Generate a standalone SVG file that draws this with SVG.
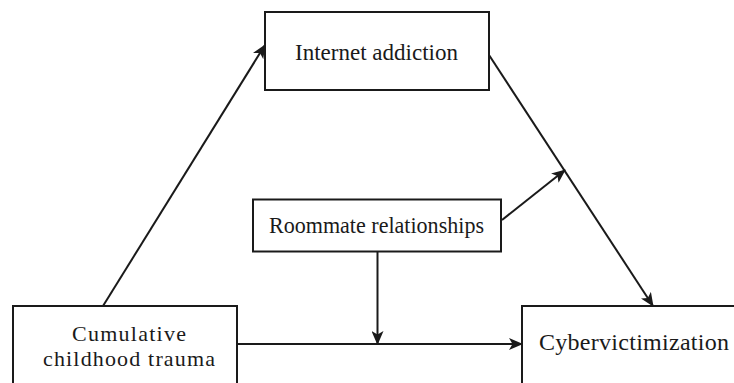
<svg xmlns="http://www.w3.org/2000/svg" width="734" height="383" viewBox="0 0 734 383">
<style>
.box{fill:#fff;stroke:#1a1a1a;stroke-width:2}
.lbl{font-family:"Liberation Serif","Times New Roman",serif;font-size:24px;fill:#1a1a1a}
.sm{font-size:22px}
.edge{fill:none;stroke:#1a1a1a;stroke-width:2}
</style>
<defs>
<marker id="ah" markerUnits="userSpaceOnUse" markerWidth="14" markerHeight="12" refX="13" refY="6" orient="auto">
<path d="M0,0 L14,6 L0,12 L3.5,6 z" fill="#1a1a1a"/>
</marker>
</defs>
<rect width="734" height="383" fill="#fff"/>
<g id="connectors">
<line class="edge" x1="103" y1="306" x2="265" y2="45" marker-end="url(#ah)"/>
<line class="edge" x1="489" y1="55" x2="653" y2="306" marker-end="url(#ah)"/>
<line class="edge" x1="502" y1="220" x2="565" y2="170" marker-end="url(#ah)"/>
<line class="edge" x1="377.5" y1="252" x2="377.5" y2="344" marker-end="url(#ah)"/>
<line class="edge" x1="238" y1="344" x2="522" y2="344" marker-end="url(#ah)"/>
</g>
<g id="internet-addiction">
<rect class="box" x="265" y="12" width="224" height="78"/>
<text class="lbl" x="295" y="60" textLength="163" lengthAdjust="spacingAndGlyphs">Internet addiction</text>
</g>
<g id="roommate-relationships">
<rect class="box" x="253" y="199.5" width="248" height="52"/>
<text class="lbl" x="269" y="233" textLength="215" lengthAdjust="spacingAndGlyphs">Roommate relationships</text>
</g>
<g id="cumulative-childhood-trauma">
<rect class="box" x="13" y="306" width="224" height="90"/>
<text class="lbl sm" x="72" y="341" textLength="114" lengthAdjust="spacing">Cumulative</text>
<text class="lbl sm" x="43" y="366" textLength="172" lengthAdjust="spacing">childhood trauma</text>
</g>
<g id="cybervictimization">
<rect class="box" x="522" y="306" width="230" height="90"/>
<text class="lbl" x="539" y="350" textLength="190" lengthAdjust="spacing">Cybervictimization</text>
</g>
</svg>
